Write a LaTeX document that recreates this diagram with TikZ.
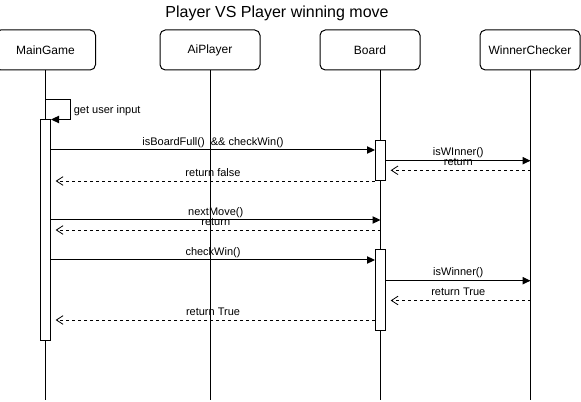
\documentclass[tikz,border=0pt]{standalone}
\usepackage{fontspec}
\setmainfont{Liberation Sans}
\usetikzlibrary{arrows.meta}

\tikzset{
  actor/.style={draw,line width=0.75pt,rounded corners=4pt,minimum width=75pt,minimum height=30pt,font=\fontsize{9}{10}\selectfont},
  actbar/.style={draw,line width=0.75pt,fill=white,minimum width=7.5pt,inner sep=0pt},
  call/.style={line width=0.75pt,-{Triangle[length=6pt,width=5.5pt]}},
  reply/.style={line width=0.6pt,dash pattern=on 2.25pt off 2.25pt,shorten >=3.5pt,-{Straight Barb[length=5pt,width=6.5pt]}},
  lbl/.style={font=\fontsize{8.25}{9}\selectfont,inner sep=1.4pt,text depth=1.8pt}
}

\begin{document}
\begin{tikzpicture}[x=0.75pt,y=-0.75pt] %1 unit = 1px
\useasboundingbox (0,0) rectangle (581,402);
\node[font=\fontsize{12}{14}\selectfont] (title) at (277,13) {Player VS Player winning move};

\node[actor] (mg) at (45.5,50) {MainGame};
\node[actor] (ai) at (210,50) {AiPlayer};
\node[actor] (bd) at (370,50) {Board};
\node[actor] (wc) at (530,50) {WinnerChecker};
\foreach \n/\x in {mg/45.5,ai/210,bd/380.5,wc/530.5} {
\coordinate (\n-end) at (\x,400);
\draw[line width=0.75pt] (\n-end |- \n.south) -- (\n-end);
}

\node[actbar,minimum height=165pt] (mgbar) at (45.5,230) {};
\node[actbar,minimum height=30pt] (bdbarA) at (380.5,160.3) {};
\node[actbar,minimum height=60pt] (bdbarB) at (380.5,290) {};

% self call
\coordinate (loop) at (70,100);
\draw[call] (mg-end |- loop) -- (loop) |- (mgbar.north east)
  node[lbl,pos=0.25,right,inner sep=2.5pt,text depth=0pt] {get user input};

% first check
\draw[call] (mgbar.east |- 0,150) -- (bdbarA.west |- 0,150)
  node[lbl,midway,above] {isBoardFull()\ \ \&\& checkWin()};
\draw[call] (bdbarA.east |- 0,160.7) -- (wc-end |- 0,160.7)
  node[lbl,midway,above] {isWInner()};
\draw[reply] (wc-end |- 0,170.3) -- (bdbarA.east |- 0,170.3)
  node[lbl,midway,above] {return};
\draw[reply] (bdbarA.west |- 0,181) -- (mgbar.east |- 0,181)
  node[lbl,midway,above] {return false};

% ai move
\draw[call] (mgbar.east |- 0,220) -- (bd-end |- 0,220)
  node[lbl,midway,above] {nextMove()};
\draw[reply] (bd-end |- 0,230) -- (mgbar.east |- 0,230)
  node[lbl,midway,above] {return};

% second check
\draw[call] (mgbar.east |- 0,260) -- (bdbarB.west |- 0,260)
  node[lbl,midway,above] {checkWin()};
\draw[call] (bdbarB.east |- 0,280.7) -- (wc-end |- 0,280.7)
  node[lbl,midway,above] {isWinner()};
\draw[reply] (wc-end |- 0,300.5) -- (bdbarB.east |- 0,300.5)
  node[lbl,midway,above] {return True};
\draw[reply] (bdbarB.west |- 0,320) -- (mgbar.east |- 0,320)
  node[lbl,midway,above] {return True};
\end{tikzpicture}
\end{document}
